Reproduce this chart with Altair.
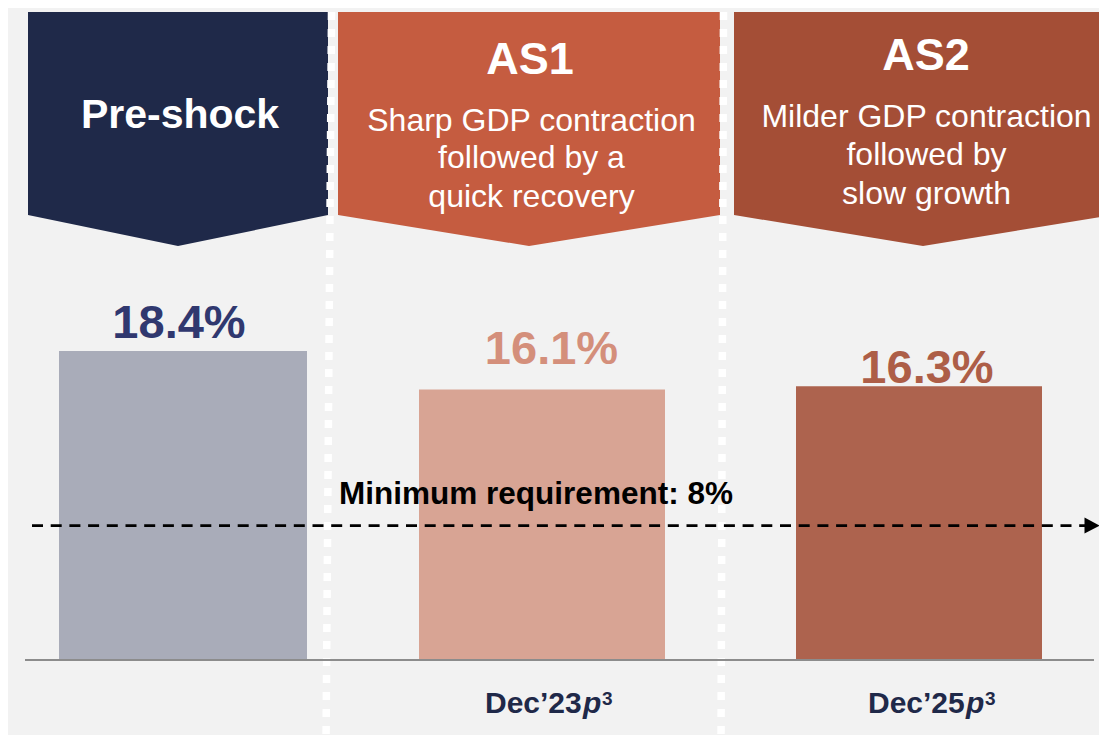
import altair as alt
import pandas as pd

# ---------------- data ----------------
categories = ["Pre-shock", "AS1", "AS2"]
values = [18.4, 16.1, 16.3]
value_labels = ["18.4%", "16.1%", "16.3%"]
header_titles = ["Pre-shock", "AS1", "AS2"]
as1_lines = ["Sharp GDP contraction", "followed by a", "quick recovery"]
as2_lines = ["Milder GDP contraction", "followed by", "slow growth"]
period_labels = ["Dec\u201923", "Dec\u201925"]
period_italic = "p"
period_sup = "3"
threshold = 8
threshold_label = "Minimum requirement: 8%"

# ---------------- styles ----------------
FONT = "Liberation Sans"
BG = "#f2f2f2"
header_colors = ["#1f2949", "#c55c40", "#a44e36"]
bar_colors = ["#a9acb9", "#d8a494", "#ad634e"]
label_colors = ["#30386f", "#d48f7b", "#ad5e47"]
NAVY = "#1f2949"

# ---------------- layout (reference-pixel coordinates) ----------------
W, H = 1091, 727
X0, Y0 = 8, 8
BASE = 660          # pixel row of value 0
K = 16.8            # pixels per percentage point

hdr_left = [28, 338, 734]
hdr_mid = [178, 529, 923]
hdr_right = [328, 720, 1112]
hdr_top, hdr_side, hdr_tip = 12, 215, 246

title_x = [180, 530, 926]
title_base = [128, 74, 70]
title_size = [41, 45, 45]
sub_x = [531.5, 926.5]
sub_base_as1 = [131, 168, 207]
sub_base_as2 = [127, 165, 204]

bar_left = [59, 419, 796]
bar_right = [307, 665, 1042]
label_x = [179, 551.5, 927]
label_base = [338, 364, 383]

sep_top_x = [331.5, 723.5]
sep_bot_x = [326, 721]
sep_y = [12, 745]

axis_x = [25, 1094]
thr_x = [32, 1086]
arrow_x = 1092
thr_text_x = 536
thr_text_base = 504

period_x = [485, 868]
period_base = 713

LX = alt.Scale(domain=[X0, X0 + W], range=[0, W], nice=False, zero=False)
LY = alt.Scale(domain=[Y0, Y0 + H], range=[0, H], nice=False, zero=False)
VY = alt.Scale(domain=[-(Y0 + H - BASE) / K, (BASE - Y0) / K], nice=False, zero=False)


def lx(f):
    return alt.X(f, type="quantitative", scale=LX, axis=None)


def ly(f):
    return alt.Y(f, type="quantitative", scale=LY, axis=None)


def vy(f):
    return alt.Y(f, type="quantitative", scale=VY, axis=None)


layers = []

# headers (chevron shapes)
rows = []
for i, name in enumerate(categories):
    rows += [
        {"name": name, "c": header_colors[i], "x": hdr_left[i], "top": hdr_top, "bot": hdr_side},
        {"name": name, "c": header_colors[i], "x": hdr_mid[i], "top": hdr_top, "bot": hdr_tip},
        {"name": name, "c": header_colors[i], "x": hdr_right[i], "top": hdr_top, "bot": hdr_side},
    ]
layers.append(
    alt.Chart(pd.DataFrame(rows)).mark_area(orient="vertical", opacity=1, interpolate="linear").encode(
        x=lx("x"), y=ly("top"), y2="bot", color=alt.Color("c:N", scale=None), detail="name:N"
    )
)

# white dotted separators
sep_df = pd.DataFrame({"x1": sep_top_x, "x2": sep_bot_x, "y1": [sep_y[0]] * 2, "y2": [sep_y[1]] * 2})
layers.append(
    alt.Chart(sep_df).mark_rule(color="white", strokeWidth=7.5, strokeDash=[8, 9]).encode(
        x=lx("x1"), x2="x2", y=ly("y1"), y2="y2"
    )
)

# bars
bar_df = pd.DataFrame({"cat": categories, "value": values, "zero": [0] * 3,
                       "left": bar_left, "right": bar_right, "c": bar_colors})
layers.append(
    alt.Chart(bar_df).mark_bar(strokeWidth=0).encode(
        x=lx("left"), x2="right", y=vy("value"), y2="zero", color=alt.Color("c:N", scale=None)
    )
)

# baseline axis line
layers.append(
    alt.Chart(pd.DataFrame({"a": [axis_x[0]], "b": [axis_x[1]], "v": [0]})).mark_rule(
        color="#8c8c8c", strokeWidth=2).encode(x=lx("a"), x2="b", y=vy("v"))
)

# threshold dashed line + arrow head
thr_df = pd.DataFrame({"a": [thr_x[0]], "b": [thr_x[1]], "v": [threshold], "ax": [arrow_x],
                       "t": [threshold_label], "tx": [thr_text_x]})
layers.append(
    alt.Chart(thr_df).mark_rule(color="black", strokeWidth=2.6, strokeDash=[11, 7.7]).encode(
        x=lx("a"), x2="b", y=vy("v"))
)
layers.append(
    alt.Chart(thr_df).mark_point(shape="M-0.94,-1L0.94,0L-0.94,1Z", filled=True, size=256,
                                 color="black", opacity=1, strokeWidth=0).encode(
        x=lx("ax"), y=vy("v"))
)
thr_dy = thr_text_base - (BASE - threshold * K)
layers.append(
    alt.Chart(thr_df).mark_text(font=FONT, fontWeight="bold", fontSize=31.5, color="black",
                                align="center", baseline="alphabetic", dy=thr_dy).encode(
        x=lx("tx"), y=vy("v"), text="t:N")
)

# value labels
for i in range(3):
    dy = label_base[i] - (BASE - values[i] * K)
    d = pd.DataFrame({"x": [label_x[i]], "v": [values[i]], "t": [value_labels[i]]})
    layers.append(
        alt.Chart(d).mark_text(font=FONT, fontWeight="bold", fontSize=47, color=label_colors[i],
                               align="center", baseline="alphabetic", dy=dy).encode(
            x=lx("x"), y=vy("v"), text="t:N")
    )

# header titles
title_df = pd.DataFrame({"t": header_titles, "x": title_x, "y": title_base, "fs": title_size})
layers.append(
    alt.Chart(title_df).mark_text(font=FONT, fontWeight="bold", color="white",
                                  align="center", baseline="alphabetic").encode(
        x=lx("x"), y=ly("y"), text="t:N", size=alt.Size("fs:Q", scale=None))
)

# header sub lines
sub_df = pd.DataFrame({
    "t": as1_lines + as2_lines,
    "x": [sub_x[0]] * 3 + [sub_x[1]] * 3,
    "y": sub_base_as1 + sub_base_as2,
})
layers.append(
    alt.Chart(sub_df).mark_text(font=FONT, fontSize=32, color="white",
                                align="center", baseline="alphabetic").encode(
        x=lx("x"), y=ly("y"), text="t:N")
)

# period labels  Dec'23 p^3
per_df = pd.DataFrame({"t": period_labels, "p": [period_italic] * 2, "s": [period_sup] * 2,
                       "x": period_x, "y": [period_base] * 2})
layers.append(
    alt.Chart(per_df).mark_text(font=FONT, fontWeight="bold", fontSize=30, color=NAVY,
                                align="left", baseline="alphabetic").encode(
        x=lx("x"), y=ly("y"), text="t:N")
)
layers.append(
    alt.Chart(per_df).mark_text(font=FONT, fontWeight="bold", fontStyle="italic", fontSize=30,
                                color=NAVY, align="left", baseline="alphabetic", dx=98).encode(
        x=lx("x"), y=ly("y"), text="p:N")
)
layers.append(
    alt.Chart(per_df).mark_text(font=FONT, fontWeight="bold", fontSize=19, color=NAVY,
                                align="left", baseline="alphabetic", dx=117, dy=-8).encode(
        x=lx("x"), y=ly("y"), text="s:N")
)

chart = (
    alt.layer(*layers)
    .resolve_scale(y="independent")
    .properties(width=W, height=H, padding=0, autosize=alt.AutoSizeParams(type="none"))
    .configure(background=BG)
    .configure_view(stroke=None)
)

chart.save("out.html", embed_options={"renderer": "svg", "actions": False})
